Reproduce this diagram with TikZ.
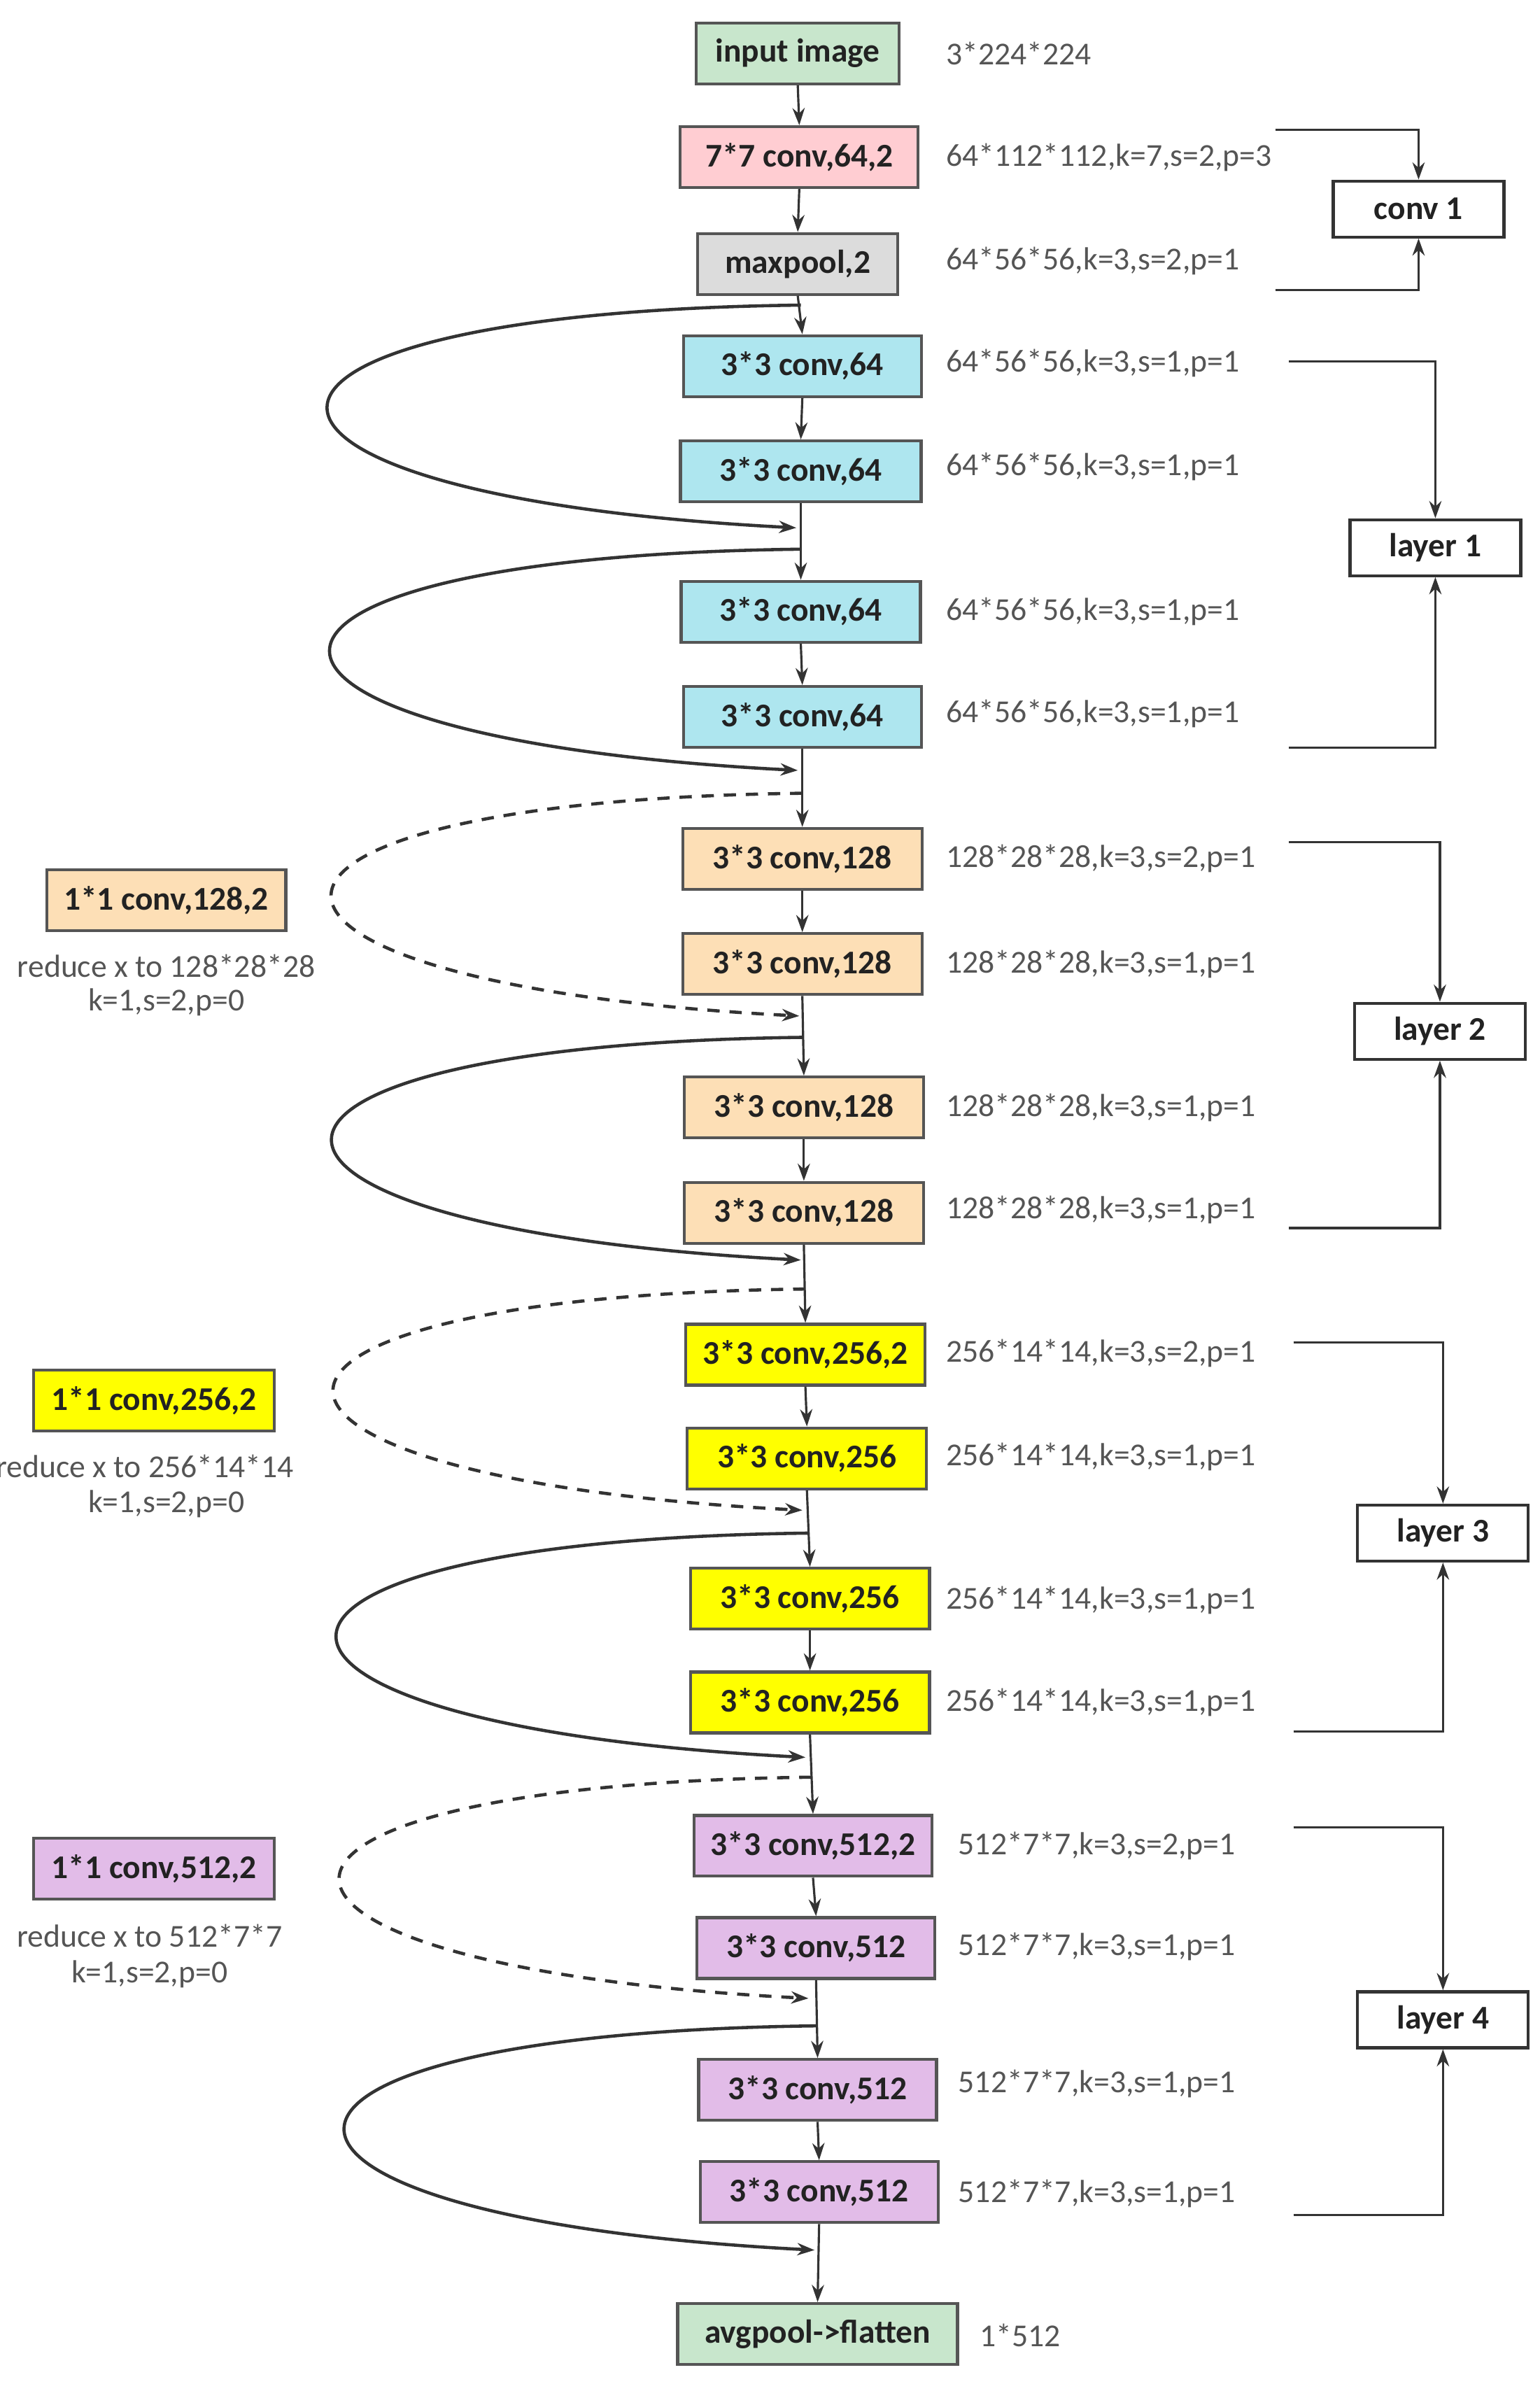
\documentclass[tikz,border=0pt]{standalone}
\usepackage{fontspec}
\setmainfont{Carlito}
\usetikzlibrary{arrows.meta}
\definecolor{grn}{HTML}{C8E6CC}
\definecolor{pnk}{HTML}{FFCDD2}
\definecolor{gry}{HTML}{DCDCDC}
\definecolor{cyn}{HTML}{AEE6EF}
\definecolor{org}{HTML}{FDDFB6}
\definecolor{ylw}{HTML}{FFFF00}
\definecolor{prp}{HTML}{E2BCE8}
\definecolor{edge}{HTML}{555555}
\definecolor{txt}{HTML}{222222}
\definecolor{lab}{HTML}{555555}
\begin{document}
\begin{tikzpicture}[x=0.0218cm,y=-0.0218cm,
  box/.style={draw=edge,line width=1.2pt,minimum height=0.87cm,inner sep=0pt,font=\fontsize{13.5}{16}\selectfont\bfseries,text=txt},
  rbox/.style={draw=black!80,line width=1.2pt,fill=white,minimum width=2.44cm,minimum height=0.8cm,inner sep=0pt,font=\fontsize{13.5}{16}\selectfont\bfseries,text=txt},
  lbl/.style={anchor=west,font=\fontsize{13}{16}\selectfont,text=lab,inner sep=0pt},
  note/.style={font=\fontsize{13}{16}\selectfont,text=lab,inner sep=0pt},
  arr/.style={draw=black!80,line width=0.9pt,-{Stealth[length=7pt,width=5pt]}},
  ln/.style={draw=black!80,line width=1.3pt},
  dsh/.style={draw=black!80,line width=1.3pt,dash pattern=on 5pt off 4pt}]
\useasboundingbox (0,0) rectangle (1009.2,1567.4);
% main column
\node[box,fill=grn,minimum width=2.9cm] (in) at (523,35) {input image};
\node[box,fill=pnk,minimum width=3.4cm] (c7) at (524,103) {7*7 conv,64,2};
\node[box,fill=gry,minimum width=2.86cm] (mp) at (523,173) {maxpool,2};
\node[box,fill=cyn,minimum width=3.4cm] (a1) at (526,240) {3*3 conv,64};
\node[box,fill=cyn,minimum width=3.44cm] (a2) at (525,309) {3*3 conv,64};
\node[box,fill=cyn,minimum width=3.42cm] (a3) at (525,401) {3*3 conv,64};
\node[box,fill=cyn,minimum width=3.4cm] (a4) at (526,470) {3*3 conv,64};
\node[box,fill=org,minimum width=3.42cm] (b1) at (526,563) {3*3 conv,128};
\node[box,fill=org,minimum width=3.42cm] (b2) at (526,632) {3*3 conv,128};
\node[box,fill=org,minimum width=3.42cm] (b3) at (527,726) {3*3 conv,128};
\node[box,fill=org,minimum width=3.42cm] (b4) at (527,795) {3*3 conv,128};
\node[box,fill=ylw,minimum width=3.42cm] (d1) at (528,888) {3*3 conv,256,2};
\node[box,fill=ylw,minimum width=3.42cm] (d2) at (529,956) {3*3 conv,256};
\node[box,fill=ylw,minimum width=3.42cm] (d3) at (531,1048) {3*3 conv,256};
\node[box,fill=ylw,minimum width=3.42cm] (d4) at (531,1116) {3*3 conv,256};
\node[box,fill=prp,minimum width=3.4cm] (e1) at (533,1210) {3*3 conv,512,2};
\node[box,fill=prp,minimum width=3.4cm] (e2) at (535,1277) {3*3 conv,512};
\node[box,fill=prp,minimum width=3.4cm] (e3) at (536,1370) {3*3 conv,512};
\node[box,fill=prp,minimum width=3.4cm] (e4) at (537,1437) {3*3 conv,512};
\node[box,fill=grn,minimum width=4.0cm] (av) at (536,1530) {avgpool->flatten};
% vertical arrows
\foreach \a/\b in {in/c7,c7/mp,mp/a1,a1/a2,a2/a3,a3/a4,a4/b1,b1/b2,b2/b3,b3/b4,b4/d1,d1/d2,d2/d3,d3/d4,d4/e1,e1/e2,e2/e3,e3/e4,e4/av}
  \draw[arr] (\a.south) -- (\b.north);
% side labels
\node[lbl] (l0) at (620,35) {3*224*224};
\node[lbl] (l1) at (620,103) {64*112*112,k=7,s=2,p=3};
\node[lbl] (l2) at (620,171) {64*56*56,k=3,s=2,p=1};
\node[lbl] (l3) at (620,238) {64*56*56,k=3,s=1,p=1};
\node[lbl] (l4) at (620,306) {64*56*56,k=3,s=1,p=1};
\node[lbl] (l5) at (620,401) {64*56*56,k=3,s=1,p=1};
\node[lbl] (l6) at (620,468) {64*56*56,k=3,s=1,p=1};
\node[lbl] (l7) at (620,563) {128*28*28,k=3,s=2,p=1};
\node[lbl] (l8) at (620,632) {128*28*28,k=3,s=1,p=1};
\node[lbl] (l9) at (620,726) {128*28*28,k=3,s=1,p=1};
\node[lbl] (l10) at (620,793) {128*28*28,k=3,s=1,p=1};
\node[lbl] (l11) at (620,887) {256*14*14,k=3,s=2,p=1};
\node[lbl] (l12) at (620,955) {256*14*14,k=3,s=1,p=1};
\node[lbl] (l13) at (620,1049) {256*14*14,k=3,s=1,p=1};
\node[lbl] (l14) at (620,1116) {256*14*14,k=3,s=1,p=1};
\node[lbl] (l15) at (628,1210) {512*7*7,k=3,s=2,p=1};
\node[lbl] (l16) at (628,1276) {512*7*7,k=3,s=1,p=1};
\node[lbl] (l17) at (628,1366) {512*7*7,k=3,s=1,p=1};
\node[lbl] (l18) at (628,1438) {512*7*7,k=3,s=1,p=1};
\node[lbl] (l19) at (642,1531) {1*512};
% right group boxes
\node[rbox] (g0) at (930,137) {conv 1};
\node[rbox] (g1) at (941,359) {layer 1};
\node[rbox] (g2) at (944,676) {layer 2};
\node[rbox] (g3) at (946,1005) {layer 3};
\node[rbox] (g4) at (946,1324) {layer 4};
\coordinate (r0a) at (836,85);  \coordinate (r0b) at (836,190);
\coordinate (r1a) at (845,237); \coordinate (r1b) at (845,490);
\coordinate (r2a) at (845,552); \coordinate (r2b) at (845,805);
\coordinate (r3a) at (848,880); \coordinate (r3b) at (848,1135);
\coordinate (r4a) at (848,1198);\coordinate (r4b) at (848,1452);
\foreach \i in {0,...,4}{
  \draw[arr] (r\i a) -| (g\i.north);
  \draw[arr] (r\i b) -| (g\i.south);}
% left downsample boxes
\node[box,fill=org,minimum width=3.42cm] (s2) at (109,590) {1*1 conv,128,2};
\node[note] (n2a) at (109,633) {reduce x to 128*28*28};
\node[note] (n2b) at (109,657) {k=1,s=2,p=0};
\node[box,fill=ylw,minimum width=3.44cm] (s3) at (101,918) {1*1 conv,256,2};
\node[note] (n3a) at (95,961) {reduce x to 256*14*14};
\node[note] (n3b) at (109,986) {k=1,s=2,p=0};
\node[box,fill=prp,minimum width=3.44cm] (s4) at (101,1225) {1*1 conv,512,2};
\node[note] (n4a) at (98,1269) {reduce x to 512*7*7};
\node[note] (n4b) at (98,1294) {k=1,s=2,p=0};
% skip loops
\coordinate (k1s) at (525,200);  \coordinate (k1e) at (522,346);
\coordinate (k2s) at (525,360);  \coordinate (k2e) at (523,505);
\coordinate (k3s) at (526,520);  \coordinate (k3e) at (524,666);
\coordinate (k4s) at (527,680);  \coordinate (k4e) at (525,826);
\coordinate (k5s) at (528,845);  \coordinate (k5e) at (526,990);
\coordinate (k6s) at (530,1005); \coordinate (k6e) at (528,1152);
\coordinate (k7s) at (532,1165); \coordinate (k7e) at (530,1310);
\coordinate (k8s) at (536,1328); \coordinate (k8e) at (534,1475);
\draw[ln,-{Stealth[length=7pt,width=5pt]}] (k1s) .. controls (110,205) and (115,325) .. (k1e);
\draw[ln,-{Stealth[length=7pt,width=5pt]}] (k2s) .. controls (112,365) and (117,484) .. (k2e);
\draw[dsh,-{Stealth[length=7pt,width=5pt]}] (k3s) .. controls (113,525) and (118,645) .. (k3e);
\draw[ln,-{Stealth[length=7pt,width=5pt]}] (k4s) .. controls (113,685) and (118,805) .. (k4e);
\draw[dsh,-{Stealth[length=7pt,width=5pt]}] (k5s) .. controls (114,850) and (119,969) .. (k5e);
\draw[ln,-{Stealth[length=7pt,width=5pt]}] (k6s) .. controls (116,1010) and (121,1131) .. (k6e);
\draw[dsh,-{Stealth[length=7pt,width=5pt]}] (k7s) .. controls (118,1170) and (123,1289) .. (k7e);
\draw[ln,-{Stealth[length=7pt,width=5pt]}] (k8s) .. controls (121,1333) and (126,1454) .. (k8e);
\end{tikzpicture}
\end{document}
